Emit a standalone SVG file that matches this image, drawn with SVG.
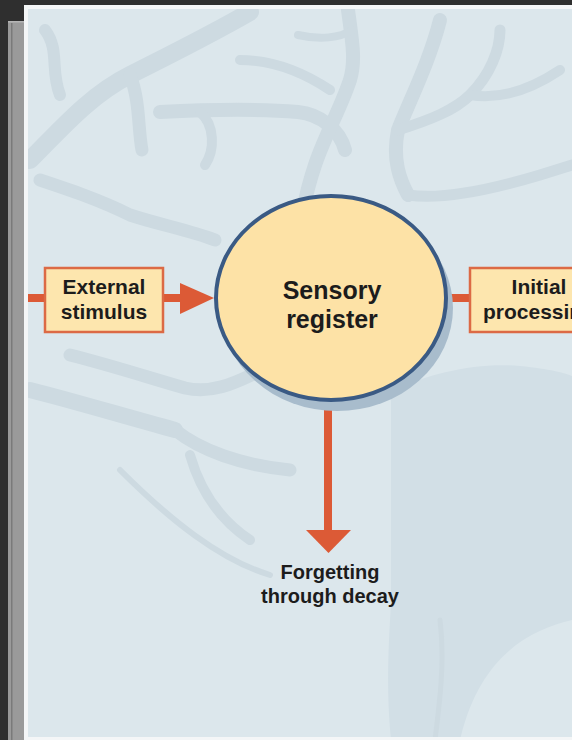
<svg xmlns="http://www.w3.org/2000/svg" width="572" height="740" viewBox="0 0 572 740">
<defs>
<style>
.vein{fill:none;stroke:#cddae1;stroke-linecap:round;stroke-linejoin:round}
.conn{stroke:#dc5a36;stroke-width:8;fill:none}
.head{fill:#dc5a36}
.box{fill:#fde6ae;stroke:#dc6a45;stroke-width:2.5}
.lbl{font-family:"Liberation Sans",Arial,sans-serif;font-weight:700;fill:#1c1c1c;text-anchor:middle}
</style>
<clipPath id="panel"><rect x="28" y="9" width="544" height="728"/></clipPath>
</defs>
<rect x="0" y="0" width="572" height="740" fill="#2f2f2f"/>
<rect x="8" y="21" width="16" height="719" fill="#9a9a9a"/>
<rect x="8" y="21" width="16" height="1.5" fill="#b5b5b5"/>
<rect x="11" y="23" width="1.5" height="717" fill="#7a7a7a"/>
<rect x="24" y="5" width="548" height="735" fill="#f4f6f7"/>
<rect x="28" y="9" width="544" height="728" fill="#dce7ec"/>
<g id="background" clip-path="url(#panel)">
<path d="M391 392 C430 372 480 362 520 366 C550 369 565 373 572 376 L572 620 C530 630 480 655 460 740 L391 740 C385 680 390 630 391 600 Z" fill="#d2dfe6"/>
<path class="vein" stroke-width="18" d="M30 160 C60 130 90 95 130 75 C170 55 210 35 250 12"/>
<path class="vein" stroke-width="13" d="M130 75 C140 100 138 130 142 150"/>
<path class="vein" stroke-width="12" d="M60 95 C50 70 60 50 45 30"/>
<path class="vein" stroke-width="14" d="M160 112 C200 110 250 108 298 112 C320 114 340 130 345 150"/>
<path class="vein" stroke-width="10" d="M200 112 C215 125 215 150 205 165"/>
<path class="vein" stroke-width="14" d="M348 10 C352 40 356 60 350 80 C340 110 325 135 315 165 C305 195 300 220 300 245"/>
<path class="vein" stroke-width="8" d="M298 35 C320 40 340 38 352 30"/>
<path class="vein" stroke-width="14" d="M440 20 C430 60 410 100 398 130 C392 160 400 180 408 195"/>
<path class="vein" stroke-width="11" d="M398 130 C430 120 455 110 470 95 C490 75 500 50 500 30"/>
<path class="vein" stroke-width="10" d="M470 95 C500 100 530 90 560 70"/>
<path class="vein" stroke-width="11" d="M408 195 C440 200 490 190 540 175 L572 165"/>
<path class="vein" stroke-width="10" d="M330 90 C300 70 270 60 240 60"/>
<path class="vein" stroke-width="13" d="M40 180 C70 190 100 200 130 215 C160 225 190 230 215 240"/>
<path class="vein" stroke-width="16" d="M30 390 C70 400 120 415 175 430"/>
<path class="vein" stroke-width="13" d="M70 355 C110 365 150 378 185 388 C215 395 240 380 262 370"/>
<path class="vein" stroke-width="13" d="M175 430 C200 450 240 465 290 470"/>
<path class="vein" stroke-width="10" d="M190 455 C200 490 220 520 250 540"/>
<path class="vein" stroke-width="6" d="M120 470 C170 520 220 560 270 575"/>
<path class="vein" stroke-width="5" d="M440 620 C445 660 440 700 435 740"/>
</g>
<g id="connectors">
<line class="conn" x1="28" y1="298" x2="46" y2="298"/>
<line class="conn" x1="163" y1="298" x2="184" y2="298"/>
<polygon class="head" points="180,283 214,298 180,314"/>
<line class="conn" x1="447" y1="298" x2="471" y2="298"/>
<line class="conn" x1="328" y1="400" x2="328" y2="533"/>
<polygon class="head" points="306,530 351,530 328.5,553"/>
</g>
<g id="external-stimulus">
<rect class="box" x="45" y="268" width="118" height="64"/>
<text class="lbl" x="104" y="294" font-size="21">External</text>
<text class="lbl" x="104" y="319" font-size="21">stimulus</text>
</g>
<g id="sensory-register">
<ellipse cx="337" cy="308" rx="116" ry="103" fill="#a8bccc"/>
<ellipse cx="331" cy="298" rx="115" ry="102" fill="#fde2a6" stroke="#3a5a84" stroke-width="4"/>
<text class="lbl" x="332" y="299" font-size="25">Sensory</text>
<text class="lbl" x="332" y="328" font-size="25">register</text>
</g>
<g id="initial-processing">
<rect class="box" x="470" y="268" width="140" height="64"/>
<text class="lbl" x="539" y="294" font-size="21">Initial</text>
<text class="lbl" x="539" y="319" font-size="21">processing</text>
</g>
<g id="forgetting">
<text class="lbl" x="330" y="579" font-size="20">Forgetting</text>
<text class="lbl" x="330" y="603" font-size="20">through decay</text>
</g>
</svg>
